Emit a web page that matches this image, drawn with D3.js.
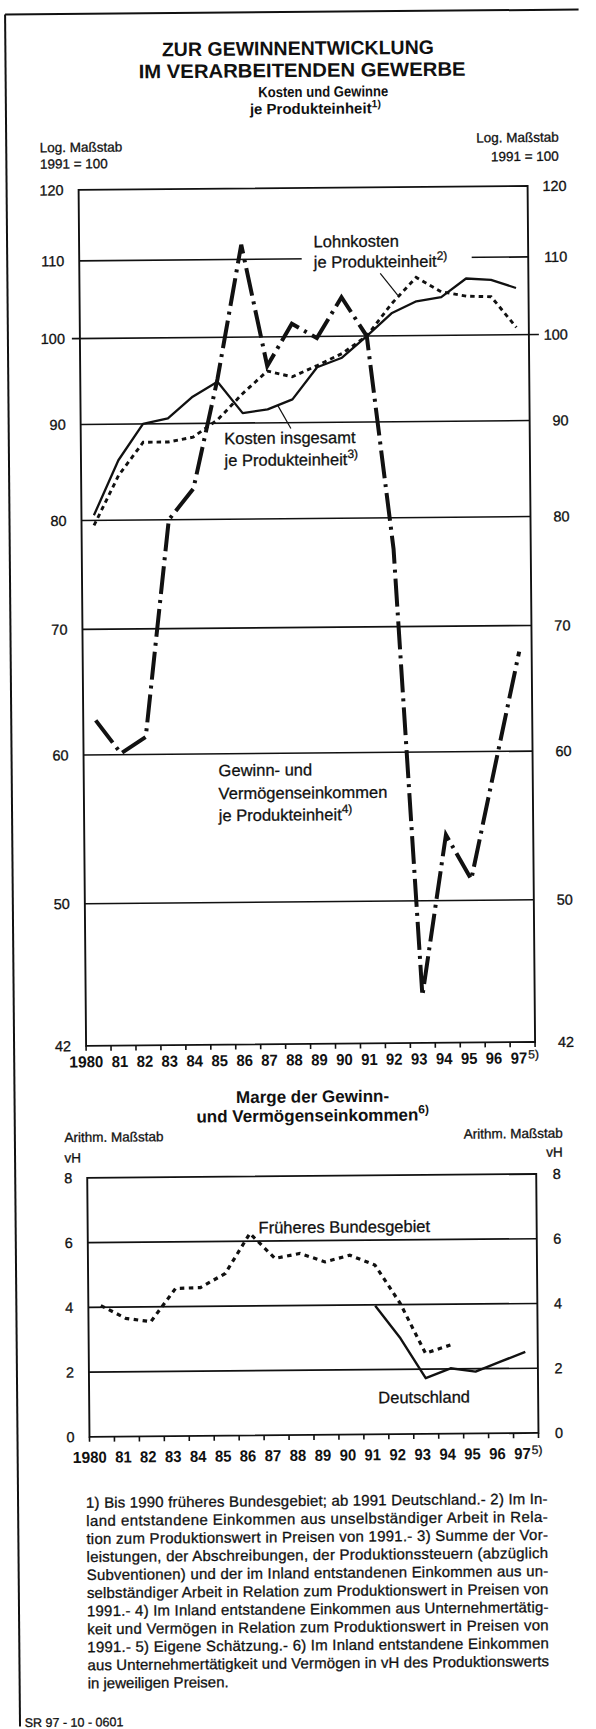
<!DOCTYPE html>
<html>
<head>
<meta charset="utf-8">
<script src="https://cdn.jsdelivr.net/npm/d3@7"></script>
<style>
  html, body { margin: 0; padding: 0; background: #fff; }
  svg { display: block; }
  text { font-family: "Liberation Sans", Arial, Helvetica, sans-serif; fill: #111; }
  text.ink { stroke: #111; stroke-width: 0.3; }
</style>
</head>
<body>
<script>
// --- data ---
var years = [1980, 1981, 1982, 1983, 1984, 1985, 1986, 1987, 1988, 1989, 1990, 1991, 1992, 1993, 1994, 1995, 1996, 1997];
var yearLabels = ["80", "81", "82", "83", "84", "85", "86", "87", "88", "89", "90", "91", "92", "93", "94", "95", "96", "97"];

// 1991 = 100, log scale
var kosten = [80.5, 86.1, 90.0, 90.6, 93.0, 94.7, 91.1, 91.5, 92.6, 96.3, 97.4, 100, 102.8, 104.3, 104.8, 107.2, 107.0, 105.9];
var lohn   = [79.5, 84.5, 88.0, 88.0, 88.5, 90.4, 93.3, 95.9, 95.2, 96.5, 97.9, 100, 104.0, 107.4, 105.5, 104.9, 104.8, 100.9];
var gewinn = [62.6, 60.1, 61.3, 80.0, 83.1, 95.0, 112.0, 96.5, 101.6, 99.8, 104.9, 100, 77.0, 44.5, 54.2, 51.3, 59.0, 67.8];

// Marge, vH
var westYears = [1980, 1981, 1982, 1983, 1984, 1985, 1986, 1987, 1988, 1989, 1990, 1991, 1992, 1993, 1994];
var margeWest = [4.05, 3.65, 3.54, 4.56, 4.58, 5.01, 6.24, 5.46, 5.61, 5.34, 5.54, 5.23, 4.04, 2.49, 2.74];
var deYears = [1991, 1992, 1993, 1994, 1995, 1996, 1997];
var margeDE = [3.97, 2.96, 1.72, 2.02, 1.91, 2.21, 2.51];

var logTicks = [120, 110, 100, 90, 80, 70, 60, 50, 42];
var vhTicks = [8, 6, 4, 2, 0];

var footnotes = [
  "1) Bis 1990 früheres Bundesgebiet; ab 1991 Deutschland.- 2) Im In-",
  "land entstandene Einkommen aus unselbständiger Arbeit  in Rela-",
  "tion zum Produktionswert in Preisen von 1991.- 3) Summe der Vor-",
  "leistungen, der Abschreibungen, der Produktionssteuern (abzüglich",
  "Subventionen) und der im Inland entstandenen Einkommen aus un-",
  "selbständiger Arbeit in Relation zum Produktionswert in Preisen von",
  "1991.- 4) Im Inland entstandene Einkommen aus Unternehmertätig-",
  "keit und Vermögen in Relation zum Produktionswert in Preisen von",
  "1991.- 5) Eigene Schätzung.- 6) Im Inland entstandene Einkommen",
  "aus Unternehmertätigkeit und Vermögen in vH des Produktionswerts",
  "in jeweiligen Preisen."
];

// --- setup ---
var svg = d3.select("body").append("svg").attr("width", 596).attr("height", 1729);
svg.append("rect").attr("width", 596).attr("height", 1729).attr("fill", "#fff");
// the scan is slightly turned
var g = svg.append("g").attr("transform", "rotate(-0.5,298,864)");

var x = d3.scaleBand().domain(years).range([84.5, 533.5]);
var bw = x.bandwidth();
function cx(yr) { return x(yr) + bw / 2; }
var yTop = d3.scaleLog().domain([42, 120]).range([1044, 188]);
var yBot = d3.scaleLinear().domain([0, 8]).range([1435, 1176]);
var left = x.range()[0], right = x.range()[1];

function txt(parent, s, px, py, size, weight, anchor) {
  return parent.append("text").attr("x", px).attr("y", py)
    .attr("class", weight === "bold" ? null : "ink")
    .attr("font-size", size).attr("font-weight", weight || "normal")
    .attr("text-anchor", anchor || "start").text(s);
}
function withSup(parent, s, sup, px, py, size, weight, anchor, supSize, rise) {
  var t = parent.append("text").attr("x", px).attr("y", py)
    .attr("class", weight === "bold" ? null : "ink")
    .attr("font-size", size).attr("font-weight", weight || "normal")
    .attr("text-anchor", anchor || "start");
  t.append("tspan").text(s);
  t.append("tspan").attr("font-size", supSize).attr("dy", -rise).text(sup);
  return t;
}

// outer border
g.append("line").attr("x1", 12.5).attr("x2", 586).attr("y1", 12).attr("y2", 12)
  .attr("stroke", "#111").attr("stroke-width", 2);
g.append("line").attr("x1", 12.5).attr("x2", 12.5).attr("y1", 12).attr("y2", 1724)
  .attr("stroke", "#111").attr("stroke-width", 2);

// titles
txt(g, "ZUR GEWINNENTWICKLUNG", 305, 55, 19.5, "bold", "middle")
  .attr("textLength", 272).attr("lengthAdjust", "spacingAndGlyphs");
txt(g, "IM VERARBEITENDEN GEWERBE", 309, 77, 19.5, "bold", "middle")
  .attr("textLength", 327).attr("lengthAdjust", "spacingAndGlyphs");
txt(g, "Kosten und Gewinne", 330, 97, 15, "bold", "middle")
  .attr("textLength", 130).attr("lengthAdjust", "spacingAndGlyphs");
withSup(g, "je Produkteinheit", "1)", 322, 114, 15, "bold", "middle", 10.5, 6);

// unit labels, top chart
txt(g, "Log. Maßstab", 46, 150, 13.5);
txt(g, "1991 = 100", 46, 166.5, 13.5);
txt(g, "Log. Maßstab", 565, 144, 13.5, "normal", "end");
txt(g, "1991 = 100", 565, 163, 13.5, "normal", "end");

var lineTop = d3.line().x(function (d) { return cx(d[0]); }).y(function (d) { return yTop(d[1]); });
var lineBot = d3.line().x(function (d) { return cx(d[0]); }).y(function (d) { return yBot(d[1]); });
function pairs(xs, vs) { return xs.map(function (d, i) { return [d, vs[i]]; }); }

function xAxis(parent, yBase, labelY) {
  var bounds = years.map(function (d) { return x(d); }).concat([right]);
  parent.selectAll("line.tk").data(bounds).enter().append("line").attr("class", "tk")
    .attr("x1", function (d) { return d; }).attr("x2", function (d) { return d; })
    .attr("y1", yBase).attr("y2", yBase + 5).attr("stroke", "#111").attr("stroke-width", 1.6);
  parent.selectAll("text.xl").data(years).enter().append("text").attr("class", "xl")
    .attr("x", function (d) { return x(d) + 0.5; }).attr("y", labelY)
    .attr("font-size", 16).attr("font-weight", "bold")
    .attr("textLength", 16.5).attr("lengthAdjust", "spacingAndGlyphs")
    .text(function (d, i) { return yearLabels[i]; });
  parent.append("text").attr("x", x(years[0]) + 0.5).attr("y", labelY)
    .attr("text-anchor", "end").attr("font-size", 16).attr("font-weight", "bold")
    .attr("textLength", 17.5).attr("lengthAdjust", "spacingAndGlyphs").text("19");
  txt(parent, "5)", x(years[17]) + 18, labelY - 5, 12);
}

// --- top chart ---
var topG = g.append("g");

topG.selectAll("line.grid").data(logTicks.filter(function (d) { return d !== 120 && d !== 42; }))
  .enter().append("line").attr("class", "grid")
  .attr("x1", function (d) { return d === 100 ? left - 8 : left; })
  .attr("x2", function (d) { return d === 100 ? right + 10 : right; })
  .attr("y1", function (d) { return yTop(d); }).attr("y2", function (d) { return yTop(d); })
  .attr("stroke", "#111").attr("stroke-width", 1.6);
// white gap in the 110 line behind the label
topG.append("rect").attr("x", 307).attr("y", yTop(110) - 5).attr("width", 170).attr("height", 10).attr("fill", "#fff");

topG.append("rect").attr("x", left).attr("y", yTop(120)).attr("width", right - left)
  .attr("height", yTop(42) - yTop(120)).attr("fill", "none").attr("stroke", "#111").attr("stroke-width", 1.9);

topG.selectAll("text.yl").data(logTicks).enter().append("text").attr("class", "yl ink")
  .attr("x", 69.5).attr("y", function (d) { return yTop(d); }).attr("dy", "0.36em")
  .attr("text-anchor", "end").attr("font-size", 14.5).text(function (d) { return d; });
topG.selectAll("text.yr").data(logTicks).enter().append("text").attr("class", "yr ink")
  .attr("x", 572.5).attr("y", function (d) { return yTop(d); }).attr("dy", "0.36em")
  .attr("text-anchor", "end").attr("font-size", 14.5).text(function (d) { return d; });

xAxis(topG, yTop(42), 1065.5);

topG.append("path").attr("d", lineTop(pairs(years, kosten)))
  .attr("fill", "none").attr("stroke", "#111").attr("stroke-width", 2.3).attr("stroke-linejoin", "round");
topG.append("path").attr("d", lineTop(pairs(years, lohn)))
  .attr("fill", "none").attr("stroke", "#111").attr("stroke-width", 2.9).attr("stroke-dasharray", "4.5,4");
topG.append("path").attr("d", lineTop(pairs(years, gewinn)))
  .attr("fill", "none").attr("stroke", "#111").attr("stroke-width", 4).attr("stroke-dasharray", "28,6,3,6");

// series labels
txt(topG, "Lohnkosten", 319, 247.5, 16.5);
withSup(topG, "je Produkteinheit", "2)", 319, 268, 16.5, "normal", "start", 12, 7);
topG.append("line").attr("x1", 385.4).attr("y1", 274).attr("x2", 402.6).attr("y2", 296)
  .attr("stroke", "#111").attr("stroke-width", 1.2);
txt(topG, "Kosten insgesamt", 228, 443.5, 16.5);
withSup(topG, "je Produkteinheit", "3)", 228, 465.5, 16.5, "normal", "start", 12, 7);
topG.append("line").attr("x1", 294.7).attr("y1", 428.5).attr("x2", 281.6).attr("y2", 405)
  .attr("stroke", "#111").attr("stroke-width", 1.2);
txt(topG, "Gewinn- und", 219.4, 775.5, 16.5);
txt(topG, "Vermögenseinkommen", 219.2, 798.5, 16.5);
withSup(topG, "je Produkteinheit", "4)", 219.2, 820.5, 16.5, "normal", "start", 12, 7);

// --- bottom chart ---
var botG = g.append("g");
txt(botG, "Marge der Gewinn-", 310.5, 1102.5, 17, "bold", "middle");
withSup(botG, "und Vermögenseinkommen", "6)", 310.5, 1121.5, 17, "bold", "middle", 12, 7);
txt(botG, "Arithm. Maßstab", 62, 1140, 13.5);
txt(botG, "vH", 62, 1160.5, 13.5);
txt(botG, "Arithm. Maßstab", 560.3, 1140, 13.5, "normal", "end");
txt(botG, "vH", 560.3, 1159, 13.5, "normal", "end");

botG.selectAll("line.grid").data(vhTicks.filter(function (d) { return d !== 8 && d !== 0; }))
  .enter().append("line").attr("class", "grid")
  .attr("x1", left).attr("x2", right)
  .attr("y1", function (d) { return yBot(d); }).attr("y2", function (d) { return yBot(d); })
  .attr("stroke", "#111").attr("stroke-width", 1.6);
botG.append("rect").attr("x", left).attr("y", yBot(8)).attr("width", right - left)
  .attr("height", yBot(0) - yBot(8)).attr("fill", "none").attr("stroke", "#111").attr("stroke-width", 1.9);

botG.selectAll("text.yl").data(vhTicks).enter().append("text").attr("class", "yl ink")
  .attr("x", 69.5).attr("y", function (d) { return yBot(d); }).attr("dy", "0.36em")
  .attr("text-anchor", "end").attr("font-size", 14.5).text(function (d) { return d; });
botG.selectAll("text.yr").data(vhTicks).enter().append("text").attr("class", "yr ink")
  .attr("x", 550).attr("y", function (d) { return yBot(d); }).attr("dy", "0.36em")
  .attr("font-size", 14.5).text(function (d) { return d; });

xAxis(botG, yBot(0), 1461);

botG.append("path").attr("d", lineBot(pairs(westYears, margeWest)))
  .attr("fill", "none").attr("stroke", "#111").attr("stroke-width", 3.2).attr("stroke-dasharray", "4.5,4.5");
botG.append("path").attr("d", lineBot(pairs(deYears, margeDE)))
  .attr("fill", "none").attr("stroke", "#111").attr("stroke-width", 2.4).attr("stroke-linejoin", "round");

txt(botG, "Früheres Bundesgebiet", 255.4, 1233, 16.5);
txt(botG, "Deutschland", 373.6, 1404, 16.5);

// --- footnotes ---
var fn = g.append("g");
fn.selectAll("text").data(footnotes).enter().append("text").attr("class", "ink")
  .attr("x", 80.5).attr("y", function (d, i) { return 1506 + i * 18.05; })
  .attr("font-size", 15)
  .attr("textLength", function (d, i) { return i < footnotes.length - 1 ? 461.5 : 141; })
  .attr("lengthAdjust", "spacing")
  .text(function (d) { return d; });

txt(g, "SR 97 - 10 - 0601", 17.2, 1724.7, 12.5);
</script>
</body>
</html>
